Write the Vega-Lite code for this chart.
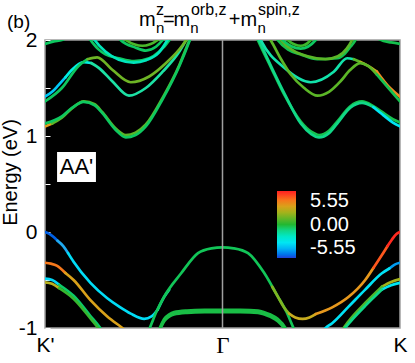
{
"$schema": "https://vega.github.io/schema/vega-lite/v6.json",
"width": 355, "height": 288,
"autosize": {"type": "none"},
"padding": {"left": 45, "top": 40, "right": 15, "bottom": 35},
"background": "white",
"config": {"font": "Liberation Sans", "view": {"fill": "black", "stroke": "#a0a0a0", "strokeWidth": 1.5}, "text": {"color": "black", "align": "left", "baseline": "alphabetic"}},
"layer": [
{
"data": {"values": [
{"b":"b1a","k":-1,"e":0.0,"m":-5.2},{"b":"b1a","k":-0.975,"e":-0.02,"m":-5.2},{"b":"b1a","k":-0.953,"e":-0.05,"m":-5.2},{"b":"b1a","k":-0.93,"e":-0.09,"m":-5.2},
{"b":"b1b","k":-0.93,"e":-0.09,"m":-4.2},{"b":"b1b","k":-0.896,"e":-0.15,"m":-4.2},{"b":"b1b","k":-0.87,"e":-0.22,"m":-4.2},
{"b":"b1c","k":-0.87,"e":-0.22,"m":-3.2},{"b":"b1c","k":-0.839,"e":-0.31,"m":-3.2},{"b":"b1c","k":-0.744,"e":-0.53,"m":-3.2},{"b":"b1c","k":-0.649,"e":-0.69,"m":-3.2},{"b":"b1c","k":-0.58,"e":-0.78,"m":-3.2},{"b":"b1c","k":-0.517,"e":-0.85,"m":-3.2},{"b":"b1c","k":-0.441,"e":-0.905,"m":-3.2},{"b":"b1c","k":-0.4,"e":-0.88,"m":-3.2},{"b":"b1c","k":-0.365,"e":-0.81,"m":-3.2},
{"b":"b1d","k":-0.365,"e":-0.81,"m":-1.5},{"b":"b1d","k":-0.328,"e":-0.675,"m":-1.5},{"b":"b1d","k":-0.3,"e":-0.6,"m":-1.5},
{"b":"b2","k":-0.43,"e":-1.08,"m":-0.4},{"b":"b2","k":-0.41,"e":-1.0,"m":-0.4},{"b":"b2","k":-0.37,"e":-0.82,"m":-0.4},{"b":"b2","k":-0.328,"e":-0.67,"m":-0.4},{"b":"b2","k":-0.233,"e":-0.43,"m":-0.4},{"b":"b2","k":-0.138,"e":-0.22,"m":-0.4},{"b":"b2","k":-0.0625,"e":-0.17,"m":-0.4},{"b":"b2","k":0,"e":-0.16,"m":-0.4},{"b":"b2","k":0.0625,"e":-0.17,"m":-0.4},{"b":"b2","k":0.144,"e":-0.22,"m":-0.4},{"b":"b2","k":0.236,"e":-0.43,"m":-0.4},{"b":"b2","k":0.311,"e":-0.67,"m":-0.4},{"b":"b2","k":0.36,"e":-0.83,"m":-0.4},{"b":"b2","k":0.4,"e":-1.0,"m":-0.4},{"b":"b2","k":0.42,"e":-1.08,"m":-0.4},
{"b":"b3a","k":-0.38,"e":-1.108,"m":-0.2},{"b":"b3a","k":-0.356,"e":-1.008,"m":-0.2},{"b":"b3a","k":-0.328,"e":-0.905,"m":-0.2},{"b":"b3a","k":-0.3,"e":-0.858,"m":-0.2},{"b":"b3a","k":-0.273,"e":-0.835,"m":-0.2},{"b":"b3a","k":-0.2,"e":-0.818,"m":-0.2},{"b":"b3a","k":-0.1,"e":-0.811,"m":-0.2},{"b":"b3a","k":0,"e":-0.81,"m":-0.2},{"b":"b3a","k":0.1,"e":-0.811,"m":-0.2},{"b":"b3a","k":0.2,"e":-0.818,"m":-0.2},{"b":"b3a","k":0.236,"e":-0.835,"m":-0.2},{"b":"b3a","k":0.27,"e":-0.86,"m":-0.2},{"b":"b3a","k":0.311,"e":-0.905,"m":-0.2},{"b":"b3a","k":0.358,"e":-1.008,"m":-0.2},{"b":"b3a","k":0.38,"e":-1.088,"m":-0.2},
{"b":"b3b","k":-0.38,"e":-1.12,"m":-0.2},{"b":"b3b","k":-0.356,"e":-1.02,"m":-0.2},{"b":"b3b","k":-0.328,"e":-0.917,"m":-0.2},{"b":"b3b","k":-0.3,"e":-0.87,"m":-0.2},{"b":"b3b","k":-0.273,"e":-0.847,"m":-0.2},{"b":"b3b","k":-0.2,"e":-0.83,"m":-0.2},{"b":"b3b","k":-0.1,"e":-0.823,"m":-0.2},{"b":"b3b","k":0,"e":-0.822,"m":-0.2},{"b":"b3b","k":0.1,"e":-0.823,"m":-0.2},{"b":"b3b","k":0.2,"e":-0.83,"m":-0.2},{"b":"b3b","k":0.236,"e":-0.847,"m":-0.2},{"b":"b3b","k":0.27,"e":-0.872,"m":-0.2},{"b":"b3b","k":0.311,"e":-0.917,"m":-0.2},{"b":"b3b","k":0.358,"e":-1.02,"m":-0.2},{"b":"b3b","k":0.38,"e":-1.1,"m":-0.2},
{"b":"b3c","k":-0.38,"e":-1.132,"m":-0.2},{"b":"b3c","k":-0.356,"e":-1.032,"m":-0.2},{"b":"b3c","k":-0.328,"e":-0.929,"m":-0.2},{"b":"b3c","k":-0.3,"e":-0.882,"m":-0.2},{"b":"b3c","k":-0.273,"e":-0.859,"m":-0.2},{"b":"b3c","k":-0.2,"e":-0.842,"m":-0.2},{"b":"b3c","k":-0.1,"e":-0.835,"m":-0.2},{"b":"b3c","k":0,"e":-0.834,"m":-0.2},{"b":"b3c","k":0.1,"e":-0.835,"m":-0.2},{"b":"b3c","k":0.2,"e":-0.842,"m":-0.2},{"b":"b3c","k":0.236,"e":-0.859,"m":-0.2},{"b":"b3c","k":0.27,"e":-0.884,"m":-0.2},{"b":"b3c","k":0.311,"e":-0.929,"m":-0.2},{"b":"b3c","k":0.358,"e":-1.032,"m":-0.2},{"b":"b3c","k":0.38,"e":-1.112,"m":-0.2},
{"b":"b1e","k":0.28,"e":-0.57,"m":1.5},{"b":"b1e","k":0.311,"e":-0.67,"m":1.5},{"b":"b1e","k":0.345,"e":-0.78,"m":1.5},{"b":"b1e","k":0.375,"e":-0.85,"m":1.5},
{"b":"b1f","k":0.375,"e":-0.85,"m":2.6},{"b":"b1f","k":0.41,"e":-0.89,"m":2.6},{"b":"b1f","k":0.451,"e":-0.905,"m":2.6},{"b":"b1f","k":0.49,"e":-0.89,"m":2.6},{"b":"b1f","k":0.525,"e":-0.855,"m":2.6},
{"b":"b1g","k":0.525,"e":-0.855,"m":3.3},{"b":"b1g","k":0.618,"e":-0.785,"m":3.3},{"b":"b1g","k":0.711,"e":-0.675,"m":3.3},{"b":"b1g","k":0.804,"e":-0.5,"m":3.3},{"b":"b1g","k":0.85,"e":-0.375,"m":3.3},
{"b":"b1h","k":0.85,"e":-0.375,"m":4.5},{"b":"b1h","k":0.898,"e":-0.24,"m":4.5},{"b":"b1h","k":0.93,"e":-0.145,"m":4.5},
{"b":"b1i","k":0.93,"e":-0.145,"m":5.4},{"b":"b1i","k":0.954,"e":-0.08,"m":5.4},{"b":"b1i","k":0.98,"e":-0.02,"m":5.4},{"b":"b1i","k":1,"e":0.0,"m":5.4},
{"b":"v1a","k":-1,"e":-0.32,"m":4.0},{"b":"v1a","k":-0.967,"e":-0.33,"m":4.0},{"b":"v1a","k":-0.934,"e":-0.35,"m":4.0},{"b":"v1a","k":-0.885,"e":-0.427,"m":4.0},
{"b":"v1b","k":-0.885,"e":-0.427,"m":3.0},{"b":"v1b","k":-0.839,"e":-0.5,"m":3.0},{"b":"v1b","k":-0.744,"e":-0.71,"m":3.0},{"b":"v1b","k":-0.649,"e":-0.88,"m":3.0},{"b":"v1b","k":-0.564,"e":-1.0,"m":3.0},{"b":"v1b","k":-0.53,"e":-1.05,"m":3.0},
{"b":"v2a","k":-1,"e":-0.486,"m":-3.3},{"b":"v2a","k":-0.96,"e":-0.5,"m":-3.3},{"b":"v2a","k":-0.92,"e":-0.55,"m":-3.3},
{"b":"v2b","k":-0.92,"e":-0.55,"m":-0.6},{"b":"v2b","k":-0.839,"e":-0.665,"m":-0.6},{"b":"v2b","k":-0.744,"e":-0.875,"m":-0.6},{"b":"v2b","k":-0.688,"e":-1.0,"m":-0.6},{"b":"v2b","k":-0.66,"e":-1.07,"m":-0.6},
{"b":"v3a","k":-1,"e":-0.525,"m":2.3},{"b":"v3a","k":-0.96,"e":-0.54,"m":2.3},{"b":"v3a","k":-0.92,"e":-0.585,"m":2.3},
{"b":"v3b","k":-0.92,"e":-0.585,"m":0.2},{"b":"v3b","k":-0.839,"e":-0.695,"m":0.2},{"b":"v3b","k":-0.744,"e":-0.9,"m":0.2},{"b":"v3b","k":-0.7,"e":-1.0,"m":0.2},{"b":"v3b","k":-0.67,"e":-1.07,"m":0.2},
{"b":"v4a","k":1,"e":-0.32,"m":-4.4},{"b":"v4a","k":0.97,"e":-0.34,"m":-4.4},{"b":"v4a","k":0.94,"e":-0.38,"m":-4.4},
{"b":"v4b","k":0.94,"e":-0.38,"m":-3.1},{"b":"v4b","k":0.898,"e":-0.43,"m":-3.1},{"b":"v4b","k":0.804,"e":-0.6,"m":-3.1},{"b":"v4b","k":0.709,"e":-0.78,"m":-3.1},{"b":"v4b","k":0.618,"e":-0.95,"m":-3.1},{"b":"v4b","k":0.581,"e":-1.0,"m":-3.1},{"b":"v4b","k":0.56,"e":-1.04,"m":-3.1},
{"b":"v5a","k":1,"e":-0.49,"m":2.0},{"b":"v5a","k":0.95,"e":-0.52,"m":2.0},{"b":"v5a","k":0.898,"e":-0.57,"m":2.0},
{"b":"v5b","k":0.898,"e":-0.57,"m":0.6},{"b":"v5b","k":0.804,"e":-0.74,"m":0.6},{"b":"v5b","k":0.71,"e":-0.93,"m":0.6},{"b":"v5b","k":0.682,"e":-1.0,"m":0.6},{"b":"v5b","k":0.66,"e":-1.05,"m":0.6},
{"b":"v6a","k":1,"e":-0.53,"m":-3.0},{"b":"v6a","k":0.95,"e":-0.555,"m":-3.0},{"b":"v6a","k":0.898,"e":-0.6,"m":-3.0},
{"b":"v6b","k":0.898,"e":-0.6,"m":-1.0},{"b":"v6b","k":0.804,"e":-0.77,"m":-1.0},{"b":"v6b","k":0.72,"e":-0.935,"m":-1.0},{"b":"v6b","k":0.69,"e":-1.0,"m":-1.0},{"b":"v6b","k":0.67,"e":-1.05,"m":-1.0},
{"b":"c1a1","k":-1,"e":1.1,"m":3.2},{"b":"c1a1","k":-0.96,"e":1.13,"m":3.2},
{"b":"c1a2","k":-0.96,"e":1.13,"m":0.8},{"b":"c1a2","k":-0.905,"e":1.19,"m":0.8},{"b":"c1a2","k":-0.85,"e":1.285,"m":0.8},{"b":"c1a2","k":-0.782,"e":1.36,"m":0.8},{"b":"c1a2","k":-0.72,"e":1.33,"m":0.8},{"b":"c1a2","k":-0.678,"e":1.25,"m":0.8},{"b":"c1a2","k":-0.6,"e":1.075,"m":0.8},{"b":"c1a2","k":-0.545,"e":1.01,"m":0.8},{"b":"c1a2","k":-0.49,"e":1.035,"m":0.8},{"b":"c1a2","k":-0.432,"e":1.12,"m":0.8},{"b":"c1a2","k":-0.337,"e":1.4,"m":0.8},{"b":"c1a2","k":-0.243,"e":1.74,"m":0.8},{"b":"c1a2","k":-0.186,"e":2.0,"m":0.8},{"b":"c1a2","k":-0.17,"e":2.07,"m":0.8},
{"b":"c1b","k":-1,"e":1.13,"m":-0.5},{"b":"c1b","k":-0.905,"e":1.205,"m":-0.5},{"b":"c1b","k":-0.85,"e":1.29,"m":-0.5},{"b":"c1b","k":-0.782,"e":1.355,"m":-0.5},{"b":"c1b","k":-0.72,"e":1.32,"m":-0.5},{"b":"c1b","k":-0.678,"e":1.24,"m":-0.5},{"b":"c1b","k":-0.6,"e":1.06,"m":-0.5},{"b":"c1b","k":-0.545,"e":0.985,"m":-0.5},{"b":"c1b","k":-0.49,"e":1.01,"m":-0.5},{"b":"c1b","k":-0.432,"e":1.1,"m":-0.5},{"b":"c1b","k":-0.337,"e":1.385,"m":-0.5},{"b":"c1b","k":-0.243,"e":1.73,"m":-0.5},{"b":"c1b","k":-0.186,"e":1.99,"m":-0.5},{"b":"c1b","k":-0.17,"e":2.07,"m":-0.5},
{"b":"c1c","k":0.185,"e":2.06,"m":-0.3},{"b":"c1c","k":0.199,"e":2.0,"m":-0.3},{"b":"c1c","k":0.274,"e":1.71,"m":-0.3},{"b":"c1c","k":0.348,"e":1.43,"m":-0.3},{"b":"c1c","k":0.441,"e":1.15,"m":-0.3},{"b":"c1c","k":0.5,"e":1.045,"m":-0.3},{"b":"c1c","k":0.544,"e":1.01,"m":-0.3},{"b":"c1c","k":0.6,"e":1.055,"m":-0.3},{"b":"c1c","k":0.646,"e":1.15,"m":-0.3},{"b":"c1c","k":0.72,"e":1.31,"m":-0.3},{"b":"c1c","k":0.786,"e":1.36,"m":-0.3},{"b":"c1c","k":0.85,"e":1.31,"m":-0.3},{"b":"c1c","k":0.907,"e":1.24,"m":-0.3},{"b":"c1c","k":0.96,"e":1.175,"m":-0.3},{"b":"c1c","k":1,"e":1.14,"m":-0.3},
{"b":"c1d1","k":0.19,"e":2.06,"m":-1.0},{"b":"c1d1","k":0.205,"e":2.0,"m":-1.0},{"b":"c1d1","k":0.278,"e":1.71,"m":-1.0},{"b":"c1d1","k":0.352,"e":1.43,"m":-1.0},{"b":"c1d1","k":0.441,"e":1.13,"m":-1.0},{"b":"c1d1","k":0.5,"e":1.02,"m":-1.0},{"b":"c1d1","k":0.544,"e":0.985,"m":-1.0},{"b":"c1d1","k":0.6,"e":1.03,"m":-1.0},{"b":"c1d1","k":0.646,"e":1.13,"m":-1.0},{"b":"c1d1","k":0.72,"e":1.295,"m":-1.0},{"b":"c1d1","k":0.786,"e":1.345,"m":-1.0},{"b":"c1d1","k":0.85,"e":1.3,"m":-1.0},
{"b":"c1d2","k":0.85,"e":1.3,"m":-3.0},{"b":"c1d2","k":0.907,"e":1.215,"m":-3.0},{"b":"c1d2","k":0.96,"e":1.14,"m":-3.0},{"b":"c1d2","k":1,"e":1.1,"m":-3.0},
{"b":"c2a1","k":-1,"e":1.41,"m":-3.6},{"b":"c2a1","k":-0.96,"e":1.46,"m":-3.6},{"b":"c2a1","k":-0.924,"e":1.53,"m":-3.6},{"b":"c2a1","k":-0.885,"e":1.61,"m":-3.6},
{"b":"c2a2","k":-0.885,"e":1.61,"m":-2.5},{"b":"c2a2","k":-0.848,"e":1.69,"m":-2.5},{"b":"c2a2","k":-0.782,"e":1.77,"m":-2.5},{"b":"c2a2","k":-0.74,"e":1.76,"m":-2.5},
{"b":"c2a3","k":-0.74,"e":1.76,"m":-1.4},{"b":"c2a3","k":-0.697,"e":1.71,"m":-1.4},{"b":"c2a3","k":-0.621,"e":1.57,"m":-1.4},{"b":"c2a3","k":-0.527,"e":1.42,"m":-1.4},{"b":"c2a3","k":-0.432,"e":1.5,"m":-1.4},{"b":"c2a3","k":-0.337,"e":1.67,"m":-1.4},{"b":"c2a3","k":-0.243,"e":1.88,"m":-1.4},{"b":"c2a3","k":-0.205,"e":2.0,"m":-1.4},{"b":"c2a3","k":-0.19,"e":2.06,"m":-1.4},
{"b":"c3a1","k":-1,"e":1.36,"m":-0.5},{"b":"c3a1","k":-0.905,"e":1.5,"m":-0.5},{"b":"c3a1","k":-0.811,"e":1.73,"m":-0.5},{"b":"c3a1","k":-0.76,"e":1.8,"m":-0.5},
{"b":"c3a2","k":-0.76,"e":1.8,"m":1.2},{"b":"c3a2","k":-0.706,"e":1.82,"m":1.2},{"b":"c3a2","k":-0.621,"e":1.69,"m":1.2},{"b":"c3a2","k":-0.517,"e":1.56,"m":1.2},{"b":"c3a2","k":-0.413,"e":1.62,"m":1.2},{"b":"c3a2","k":-0.318,"e":1.76,"m":1.2},{"b":"c3a2","k":-0.223,"e":1.95,"m":1.2},{"b":"c3a2","k":-0.205,"e":2.0,"m":1.2},{"b":"c3a2","k":-0.19,"e":2.06,"m":1.2},
{"b":"c2b1","k":0.2,"e":2.06,"m":-1.5},{"b":"c2b1","k":0.218,"e":1.99,"m":-1.5},{"b":"c2b1","k":0.348,"e":1.71,"m":-1.5},{"b":"c2b1","k":0.497,"e":1.56,"m":-1.5},{"b":"c2b1","k":0.627,"e":1.67,"m":-1.5},{"b":"c2b1","k":0.702,"e":1.81,"m":-1.5},{"b":"c2b1","k":0.74,"e":1.8,"m":-1.5},
{"b":"c2b2","k":0.74,"e":1.8,"m":0.8},{"b":"c2b2","k":0.777,"e":1.77,"m":0.8},
{"b":"c2b3","k":0.777,"e":1.77,"m":2.5},{"b":"c2b3","k":0.82,"e":1.73,"m":2.5},{"b":"c2b3","k":0.87,"e":1.67,"m":2.5},
{"b":"c2b4","k":0.87,"e":1.67,"m":3.7},{"b":"c2b4","k":0.944,"e":1.5,"m":3.7},{"b":"c2b4","k":1,"e":1.41,"m":3.7},
{"b":"c3b1","k":0.25,"e":2.06,"m":0.8},{"b":"c3b1","k":0.274,"e":1.99,"m":0.8},{"b":"c3b1","k":0.33,"e":1.8,"m":0.8},{"b":"c3b1","k":0.385,"e":1.64,"m":0.8},{"b":"c3b1","k":0.46,"e":1.5,"m":0.8},{"b":"c3b1","k":0.535,"e":1.42,"m":0.8},{"b":"c3b1","k":0.6,"e":1.46,"m":0.8},{"b":"c3b1","k":0.665,"e":1.57,"m":0.8},{"b":"c3b1","k":0.72,"e":1.69,"m":0.8},{"b":"c3b1","k":0.777,"e":1.76,"m":0.8},{"b":"c3b1","k":0.82,"e":1.73,"m":0.8},{"b":"c3b1","k":0.87,"e":1.64,"m":0.8},
{"b":"c3b2","k":0.87,"e":1.64,"m":-0.3},{"b":"c3b2","k":0.935,"e":1.5,"m":-0.3},{"b":"c3b2","k":1,"e":1.36,"m":-0.3},
{"b":"t0a","k":-1,"e":1.96,"m":-0.5},{"b":"t0a","k":-0.95,"e":1.985,"m":-0.5},{"b":"t0a","k":-0.905,"e":2.0,"m":-0.5},{"b":"t0a","k":-0.87,"e":2.03,"m":-0.5},
{"b":"t0b","k":0.86,"e":2.03,"m":-0.3},{"b":"t0b","k":0.907,"e":1.99,"m":-0.3},{"b":"t0b","k":0.95,"e":1.975,"m":-0.3},{"b":"t0b","k":1,"e":1.96,"m":-0.3},
{"b":"t1a","k":-0.77,"e":2.06,"m":-0.5},{"b":"t1a","k":-0.744,"e":2.0,"m":-0.5},{"b":"t1a","k":-0.7,"e":1.905,"m":-0.5},{"b":"t1a","k":-0.659,"e":1.85,"m":-0.5},{"b":"t1a","k":-0.584,"e":1.81,"m":-0.5},{"b":"t1a","k":-0.498,"e":1.78,"m":-0.5},{"b":"t1a","k":-0.413,"e":1.81,"m":-0.5},{"b":"t1a","k":-0.356,"e":1.88,"m":-0.5},{"b":"t1a","k":-0.299,"e":2.0,"m":-0.5},{"b":"t1a","k":-0.28,"e":2.06,"m":-0.5},
{"b":"t1b","k":-0.74,"e":2.06,"m":-1.8},{"b":"t1b","k":-0.72,"e":2.0,"m":-1.8},{"b":"t1b","k":-0.66,"e":1.88,"m":-1.8},{"b":"t1b","k":-0.584,"e":1.795,"m":-1.8},{"b":"t1b","k":-0.5,"e":1.765,"m":-1.8},{"b":"t1b","k":-0.43,"e":1.79,"m":-1.8},{"b":"t1b","k":-0.36,"e":1.865,"m":-1.8},{"b":"t1b","k":-0.31,"e":2.0,"m":-1.8},{"b":"t1b","k":-0.29,"e":2.06,"m":-1.8},
{"b":"t2a","k":-0.59,"e":2.04,"m":-0.5},{"b":"t2a","k":-0.574,"e":2.0,"m":-0.5},{"b":"t2a","k":-0.489,"e":1.92,"m":-0.5},{"b":"t2a","k":-0.432,"e":1.89,"m":-0.5},{"b":"t2a","k":-0.375,"e":1.93,"m":-0.5},{"b":"t2a","k":-0.337,"e":2.0,"m":-0.5},{"b":"t2a","k":-0.32,"e":2.04,"m":-0.5},
{"b":"t3a","k":-0.56,"e":2.04,"m":0.5},{"b":"t3a","k":-0.545,"e":2.0,"m":0.5},{"b":"t3a","k":-0.451,"e":1.94,"m":0.5},{"b":"t3a","k":-0.365,"e":2.0,"m":0.5},{"b":"t3a","k":-0.35,"e":2.04,"m":0.5},
{"b":"t1c","k":0.29,"e":2.06,"m":-0.3},{"b":"t1c","k":0.311,"e":2.0,"m":-0.3},{"b":"t1c","k":0.37,"e":1.9,"m":-0.3},{"b":"t1c","k":0.441,"e":1.85,"m":-0.3},{"b":"t1c","k":0.535,"e":1.8,"m":-0.3},{"b":"t1c","k":0.646,"e":1.81,"m":-0.3},{"b":"t1c","k":0.69,"e":1.86,"m":-0.3},{"b":"t1c","k":0.721,"e":1.93,"m":-0.3},{"b":"t1c","k":0.749,"e":2.0,"m":-0.3},{"b":"t1c","k":0.76,"e":2.04,"m":-0.3},
{"b":"t1d","k":0.31,"e":2.06,"m":0.8},{"b":"t1d","k":0.33,"e":2.0,"m":0.8},{"b":"t1d","k":0.4,"e":1.89,"m":0.8},{"b":"t1d","k":0.48,"e":1.83,"m":0.8},{"b":"t1d","k":0.58,"e":1.8,"m":0.8},{"b":"t1d","k":0.65,"e":1.83,"m":0.8},{"b":"t1d","k":0.7,"e":1.91,"m":0.8},{"b":"t1d","k":0.73,"e":2.0,"m":0.8},{"b":"t1d","k":0.74,"e":2.04,"m":0.8},
{"b":"t2b","k":0.325,"e":2.04,"m":-0.5},{"b":"t2b","k":0.339,"e":2.0,"m":-0.5},{"b":"t2b","k":0.441,"e":1.91,"m":-0.5},{"b":"t2b","k":0.525,"e":2.0,"m":-0.5},{"b":"t2b","k":0.54,"e":2.04,"m":-0.5},
{"b":"t3b","k":0.355,"e":2.04,"m":0.3},{"b":"t3b","k":0.367,"e":2.0,"m":0.3},{"b":"t3b","k":0.441,"e":1.94,"m":0.3},{"b":"t3b","k":0.497,"e":2.0,"m":0.3},{"b":"t3b","k":0.51,"e":2.04,"m":0.3}
]},
"mark": {"type": "line", "interpolate": "monotone", "strokeWidth": 2.7, "strokeCap": "round", "clip": true},
"encoding": {
"x": {"field": "k", "type": "quantitative", "scale": {"domain": [-1, 1], "nice": false, "zero": false},
 "axis": {"values": [-1, 0, 1], "labelExpr": "datum.value < -0.5 ? \"K'\" : datum.value > 0.5 ? 'K' : 'Γ'", "title": null, "ticks": false, "domain": false, "grid": false, "labelFontSize": {"condition": {"test": "datum.value === 0", "value": 23}, "value": 21}, "labelFont": {"condition": {"test": "datum.value === 0", "value": "Liberation Serif"}, "value": "Liberation Sans"}, "labelColor": "black", "labelPadding": 6, "labelFlush": false}},
"y": {"field": "e", "type": "quantitative", "scale": {"domain": [-1, 2], "nice": false, "zero": false},
 "axis": {"values": [-1, -0.75, -0.5, -0.25, 0, 0.25, 0.5, 0.75, 1, 1.25, 1.5, 1.75, 2], "labelExpr": "datum.value % 1 === 0 ? '' + datum.value : ''", "title": "Energy (eV)", "titleFontSize": 20, "titleFontWeight": "normal", "titleColor": "black", "titleX": -29, "titleY": 132, "titleAngle": -90, "titleAlign": "center", "titleBaseline": "alphabetic", "tickSize": -5, "tickColor": "white", "tickWidth": 1, "domain": false, "grid": false, "labelFontSize": 21, "labelColor": "black", "labelPadding": 13, "labelFlush": false}},
"color": {"field": "m", "type": "quantitative",
 "scale": {"domain": [-5.55, -4.22, -2.78, -1.33, 0, 1.33, 2.44, 3.55, 4.66, 5.55], "range": ["#1f40d8", "#22a8f0", "#22f0f0", "#22e0a0", "#22b832", "#72b424", "#c0b024", "#f09024", "#ff4a20", "#ff2020"]},
 "legend": {"orient": "none", "legendX": 232, "legendY": 151, "direction": "vertical", "gradientLength": 67, "gradientThickness": 19, "values": [-5.55, 0, 5.55], "labelExpr": "replace(datum.label, '−', '-')", "format": ".2f", "labelColor": "white", "labelFontSize": 20, "labelOffset": 14, "labelBaseline": "middle", "title": null, "gradientStrokeWidth": 0, "padding": 0}},
"detail": {"field": "b"}
}
},
{
"data": {"values": [{}]},
"mark": {"type": "rule", "color": "#a0a0a0", "strokeWidth": 1.5},
"encoding": {"x": {"datum": 0, "scale": {"domain": [-1, 1], "nice": false, "zero": false}}}
},
{
"data": {"values": [{}]},
"mark": {"type": "rect", "fill": "white"},
"encoding": {"x": {"datum": -0.932}, "x2": {"datum": -0.713}, "y": {"datum": 0.833}, "y2": {"datum": 0.521}}
},
{"data": {"values": [{}]}, "mark": {"type": "text", "text": "AA'", "fontSize": 22, "align": "center", "baseline": "middle"}, "encoding": {"x": {"datum": -0.8225}, "y": {"datum": 0.675}}},
{"data": {"values": [{}]}, "mark": {"type": "text", "text": "(b)", "fontSize": 19, "baseline": "middle"}, "encoding": {"x": {"datum": -1.214}, "y": {"datum": 2.19}}},
{"data": {"values": [{}]}, "mark": {"type": "text", "text": "m", "fontSize": 20}, "encoding": {"x": {"datum": -0.47}, "y": {"datum": 2.15}}},
{"data": {"values": [{}]}, "mark": {"type": "text", "text": "n", "fontSize": 15}, "encoding": {"x": {"datum": -0.375}, "y": {"datum": 2.078}}},
{"data": {"values": [{}]}, "mark": {"type": "text", "text": "z", "fontSize": 16}, "encoding": {"x": {"datum": -0.375}, "y": {"datum": 2.262}}},
{"data": {"values": [{}]}, "mark": {"type": "text", "text": "=", "fontSize": 20}, "encoding": {"x": {"datum": -0.335}, "y": {"datum": 2.15}}},
{"data": {"values": [{}]}, "mark": {"type": "text", "text": "m", "fontSize": 20}, "encoding": {"x": {"datum": -0.276}, "y": {"datum": 2.15}}},
{"data": {"values": [{}]}, "mark": {"type": "text", "text": "n", "fontSize": 15}, "encoding": {"x": {"datum": -0.181}, "y": {"datum": 2.078}}},
{"data": {"values": [{}]}, "mark": {"type": "text", "text": "orb,z", "fontSize": 16}, "encoding": {"x": {"datum": -0.178}, "y": {"datum": 2.262}}},
{"data": {"values": [{}]}, "mark": {"type": "text", "text": "+", "fontSize": 20}, "encoding": {"x": {"datum": 0.035}, "y": {"datum": 2.15}}},
{"data": {"values": [{}]}, "mark": {"type": "text", "text": "m", "fontSize": 20}, "encoding": {"x": {"datum": 0.102}, "y": {"datum": 2.15}}},
{"data": {"values": [{}]}, "mark": {"type": "text", "text": "n", "fontSize": 15}, "encoding": {"x": {"datum": 0.197}, "y": {"datum": 2.078}}},
{"data": {"values": [{}]}, "mark": {"type": "text", "text": "spin,z", "fontSize": 16}, "encoding": {"x": {"datum": 0.2}, "y": {"datum": 2.262}}}
]
}
